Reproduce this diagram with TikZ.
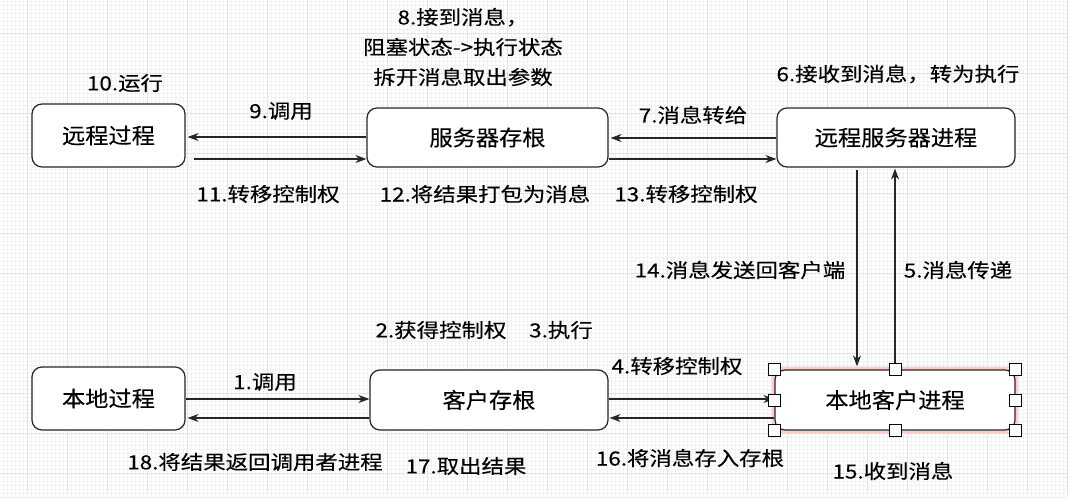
\documentclass[tikz,border=0pt]{standalone}
\usepackage{fontspec}
\setmainfont{Noto Sans CJK SC}
\newfontfamily\lblfont{Noto Sans CJK SC}[FakeStretch=1.15,FakeBold=0.25]
\newfontfamily\boxfont{Noto Sans CJK SC}[FakeStretch=1.08,FakeBold=0.2]
\usetikzlibrary{arrows.meta}
\begin{document}
\begin{tikzpicture}[x=1pt,y=-1pt,
  box/.style={draw=black!85, line width=1.2pt, rounded corners=10pt, fill=white, font=\boxfont\fontsize{21.5}{23}\selectfont, inner sep=0pt},
  lbl/.style={font=\lblfont\fontsize{19.5}{30}\selectfont, inner sep=0pt, align=center},
  arr/.style={-{Stealth[length=11pt,width=8pt]}, line width=1.1pt, black!85},
  handle/.style={draw=black, line width=1pt, fill=white, minimum size=12pt, inner sep=0pt}]
\useasboundingbox (0,0) rectangle (1068,500);
% grid background
\fill[white] (0,0) rectangle (1068,500);
\draw[gray!10, line width=0.5pt, xstep=4pt, ystep=4pt, shift={(3,-3)}] (-3,-3) grid (1068,500);
\draw[gray!22, line width=0.7pt, xstep=40pt, ystep=40pt, shift={(27,-7)}] (-27,-7) grid (1068,500);
% boxes
\node[box, minimum width=153pt, minimum height=63pt] (A) at (108.5,135.5) {远程过程};
\node[box, minimum width=241pt, minimum height=59pt] (B) at (487.5,137.5) {服务器存根};
\node[box, minimum width=238pt, minimum height=59pt] (C) at (896,137.5) {远程服务器进程};
\node[box, minimum width=153pt, minimum height=63pt] (D) at (108.5,398.5) {本地过程};
\node[box, minimum width=238pt, minimum height=60pt] (E) at (489,400) {客户存根};
\node[box, minimum width=240pt, minimum height=60pt, draw=none] (F) at (895,400) {};
\draw[pink!80, line width=3.5pt, rounded corners=10pt] ([shift={(-1pt,1pt)}]F.north west) rectangle ([shift={(1pt,-1pt)}]F.south east);
\node[box, minimum width=240pt, minimum height=60pt] (F) at (895,400) {本地客户进程};
% top arrows
\draw[arr, shorten >=2pt] ([yshift=0.5pt]B.west) -- ([yshift=0.5pt]B.west -| A.east);
\draw[arr, shorten <=8pt] ([yshift=-23.5pt]A.east) -- ([yshift=-23.5pt]A.east -| B.west);
\draw[arr, shorten >=2pt] ([yshift=-0.5pt]C.west) -- ([yshift=-0.5pt]C.west -| B.east);
\draw[arr] ([yshift=-21.5pt]B.east) -- ([yshift=-21.5pt]C.west);
% vertical arrows
\draw[arr, shorten <=2pt, shorten >=3pt] ([xshift=-39pt]C.south) -- ([xshift=-39pt]C.south |- F.north);
\draw[arr, shorten >=1pt] (F.north) -- (C.south -| F.north);
% bottom arrows
\draw[arr] ([yshift=1pt]E.west -| D.east) -- ([yshift=1pt]E.west);
\draw[arr, shorten >=2pt] ([yshift=-18pt]E.west) -- ([yshift=-18pt]E.west -| D.east);
\draw[arr] ([yshift=1pt]E.east) -- ([yshift=1pt]F.west);
\draw[arr, shorten >=1pt] ([yshift=-18pt]F.west) -- ([yshift=-18pt]E.east);
% handles
\foreach \p in {north west,north,north east,west,east,south west,south,south east}
  \node[handle] at (F.\p) {};
% labels
\node[lbl] (l10) at (125,83) {10.运行};
\node[lbl] (l9) at (281,111) {9.调用};
\node[lbl] (l11) at (268,194) {11.转移控制权};
\node[lbl] (l8) at (463,47) {8.接到消息，\\阻塞状态->执行状态\\拆开消息取出参数};
\node[lbl] (l12) at (485,194) {12.将结果打包为消息};
\node[lbl] (l7) at (693,115) {7.消息转给};
\node[lbl] (l13) at (686,194) {13.转移控制权};
\node[lbl] (l6) at (898,74) {6.接收到消息，转为执行};
\node[lbl] (l14) at (740,270) {14.消息发送回客户端};
\node[lbl] (l5) at (958,270) {5.消息传递};
\node[lbl] (l2) at (441,330) {2.获得控制权};
\node[lbl] (l3) at (561,330) {3.执行};
\node[lbl] (l1) at (265,382) {1.调用};
\node[lbl] (l4) at (677,366) {4.转移控制权};
\node[lbl] (l18) at (255,462) {18.将结果返回调用者进程};
\node[lbl] (l17) at (466,466) {17.取出结果};
\node[lbl] (l16) at (690,458) {16.将消息存入存根};
\node[lbl] (l15) at (893,471) {15.收到消息};
\end{tikzpicture}
\end{document}
